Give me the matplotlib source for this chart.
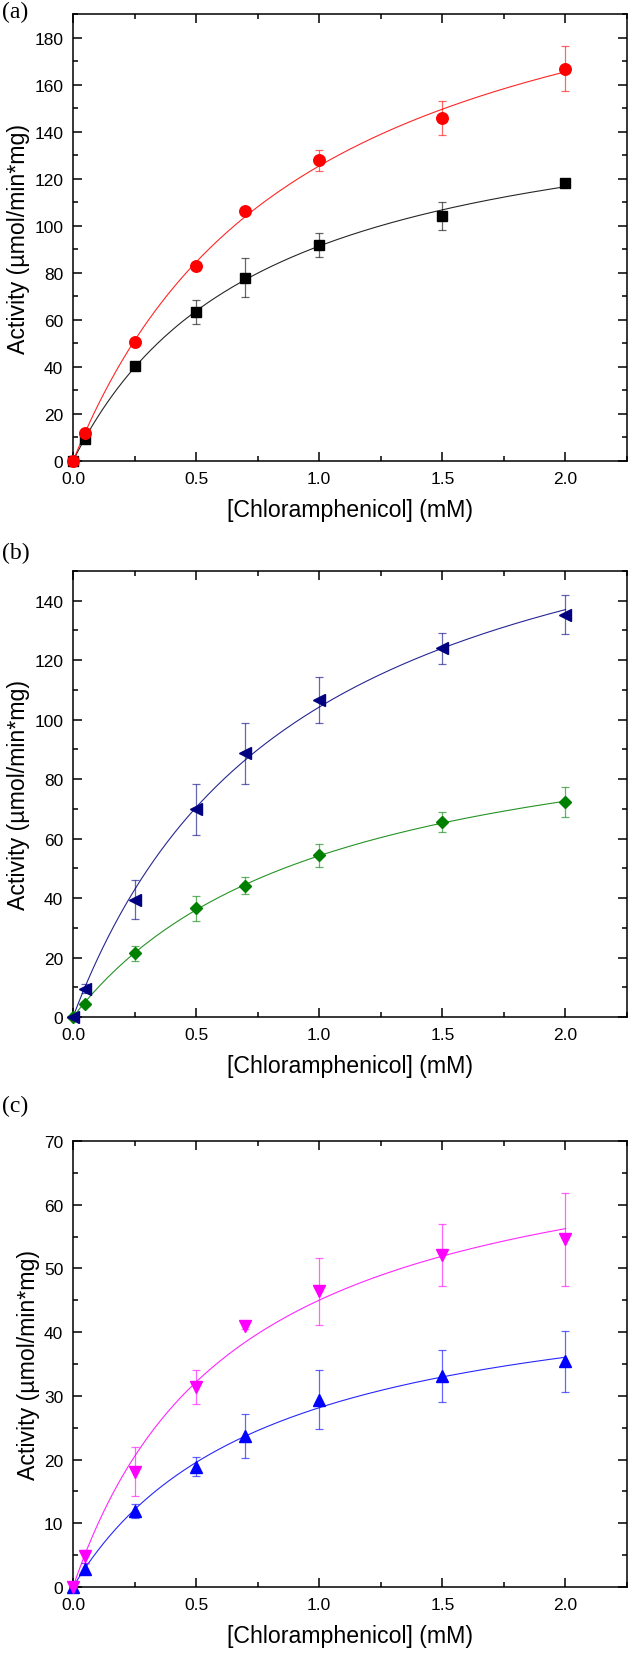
import numpy as np
import matplotlib
matplotlib.use("Agg")
import matplotlib.pyplot as plt
from matplotlib.ticker import MultipleLocator, FormatStrFormatter

plt.rcParams['font.family'] = ['Liberation Sans', 'DejaVu Sans']

conc = [0.0, 0.05, 0.25, 0.5, 0.7, 1.0, 1.5, 2.0]

# Panel (a)
a_black = [0.0, 9.3, 40.2, 63.3, 77.9, 91.8, 104.2, 118.2]
a_black_err = [0.0, 0.8, 1.0, 5.2, 8.3, 5.0, 5.8, 1.0]
a_red = [0.0, 11.9, 50.5, 82.8, 106.1, 127.8, 145.8, 166.8]
a_red_err = [0.0, 0.8, 1.0, 1.5, 1.0, 4.5, 7.2, 9.7]

# Panel (b)
b_green = [0.0, 4.4, 21.4, 36.5, 44.1, 54.4, 65.7, 72.2]
b_green_err = [0.0, 0.6, 2.5, 4.3, 2.9, 3.8, 3.4, 5.0]
b_navy = [0.0, 9.5, 39.5, 69.8, 88.7, 106.6, 124.0, 135.3]
b_navy_err = [0.0, 1.5, 6.7, 8.6, 10.2, 7.6, 5.3, 6.5]

# Panel (c)
c_blue = [0.0, 2.9, 11.9, 18.9, 23.7, 29.4, 33.1, 35.4]
c_blue_err = [0.0, 0.8, 1.1, 1.5, 3.5, 4.6, 4.1, 4.8]
c_mag = [0.0, 4.8, 18.1, 31.4, 41.0, 46.4, 52.1, 54.6]
c_mag_err = [0.0, 1.0, 3.8, 2.7, 0.5, 5.3, 4.9, 7.3]

panel_labels = ['(a)', '(b)', '(c)']
ylims = [190, 150, 70]
ymajor = [20, 20, 10]
yminor = [10, 10, 5]
xlabel = '[Chloramphenicol] (mM)'
ylabel = 'Activity (\u00b5mol/min*mg)'

panels = [
    [(a_black, a_black_err, 'black', 's', 7.0), (a_red, a_red_err, '#ff0000', 'o', 8.3)],
    [(b_green, b_green_err, '#008000', 'D', 6.5), (b_navy, b_navy_err, '#000080', '<', 8.5)],
    [(c_blue, c_blue_err, '#0000ff', '^', 8.5), (c_mag, c_mag_err, '#ff00ff', 'v', 8.5)],
]


def mm_fit(x, y):
    x = np.asarray(x, float)
    y = np.asarray(y, float)
    best = None
    for K in np.linspace(0.05, 5.0, 4000):
        f = x / (K + x)
        V = np.sum(y * f) / np.sum(f * f)
        r = np.sum((y - V * f) ** 2)
        if best is None or r < best[0]:
            best = (r, V, K)
    return best[1], best[2]


W, H = 630, 1656
fig = plt.figure(figsize=(W / 100, H / 100), dpi=100)

left_px, right_px = 73, 627
tops = [15, 572, 1142]
bottoms = [462, 1018, 1588]
label_y = [12, 553, 1106]

for i in range(3):
    ax = fig.add_axes([left_px / W, 1 - bottoms[i] / H,
                       (right_px - left_px) / W, (bottoms[i] - tops[i]) / H])
    xs = np.linspace(0, 2.0, 300)
    for (vals, errs, col, mk, ms) in panels[i]:
        V, K = mm_fit(conc, vals)
        ax.plot(xs, V * xs / (K + xs), color=col, lw=0.8, alpha=0.85, zorder=2)
        ax.errorbar(conc, vals, yerr=errs, fmt='none', ecolor=col, elinewidth=0.9,
                    capsize=3, capthick=0.9, alpha=0.6, zorder=3, clip_on=False)
        ax.plot(conc, vals, linestyle='none', marker=mk, markersize=ms, color=col,
                markeredgecolor=col, zorder=4, clip_on=False)
    ax.set_xlim(0, 2.25)
    ax.set_ylim(0, ylims[i])
    ax.xaxis.set_major_locator(MultipleLocator(0.5))
    ax.xaxis.set_minor_locator(MultipleLocator(0.25))
    ax.yaxis.set_major_locator(MultipleLocator(ymajor[i]))
    ax.yaxis.set_minor_locator(MultipleLocator(yminor[i]))
    ax.xaxis.set_major_formatter(FormatStrFormatter('%.1f'))
    ax.tick_params(which='both', direction='in', top=True, right=True, width=1.1)
    ax.tick_params(which='major', length=6.5, labelsize=12.5, pad=7)
    ax.tick_params(which='minor', length=3.8)
    for sp in ax.spines.values():
        sp.set_linewidth(1.1)
    ax.set_xlabel(xlabel, fontsize=16.7, labelpad=9)
    ax.set_ylabel(ylabel, fontsize=16.7, labelpad=3)
    fig.text(2 / W, 1 - label_y[i] / H, panel_labels[i], family='Liberation Serif',
             fontsize=17, ha='left', va='center')

fig.savefig('out.png', dpi=100)
